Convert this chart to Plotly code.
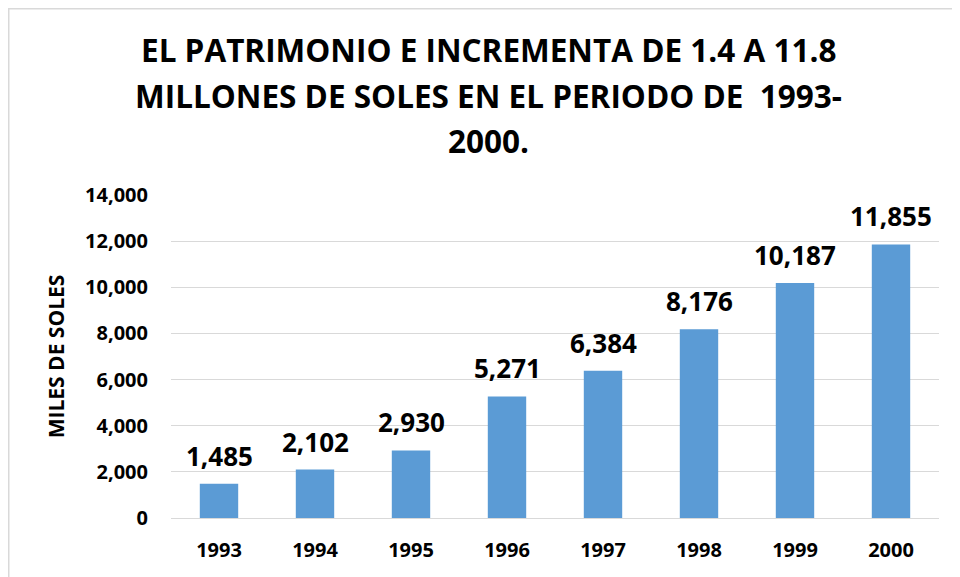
import plotly.graph_objects as go

years = ["1993", "1994", "1995", "1996", "1997", "1998", "1999", "2000"]
values = [1485, 2102, 2930, 5271, 6384, 8176, 10187, 11855]
title_lines = [
    "EL PATRIMONIO E INCREMENTA DE 1.4 A 11.8",
    "MILLONES DE SOLES EN EL PERIODO DE  1993-",
    "2000.",
]
y_title = "MILES DE SOLES"
y_ticks = [0, 2000, 4000, 6000, 8000, 10000, 12000, 14000]

FONT = "Open Sans"
OFF = 8  # page body margin
W, H = 960 - OFF, 577 - OFF
# plot area in page pixels: x 171..939, y 195..518
L, T = 171 - OFF, 195 - OFF
R = W - (939 - OFF)
B = H - (518 - OFF)
pw, ph = W - L - R, H - T - B

def px_to_paper_x(x):
    return (x - OFF - L) / pw

def px_to_paper_y(y):
    return (H - B - (y - OFF)) / ph

fig = go.Figure()
fig.add_trace(go.Bar(
    x=years, y=values, marker=dict(color="#5B9BD5", line=dict(width=0)),
    width=0.4, hoverinfo="x+y",
))

annotations = []
for i, v in enumerate(values):
    annotations.append(dict(
        x=i, y=v, xref="x", yref="y", text=f"{v:,}", showarrow=False,
        yanchor="middle", yshift=28,
        font=dict(family=FONT, size=26, color="#000000", weight="bold"),
    ))
title_y_px = [50, 95, 140]
for line, ypx in zip(title_lines, title_y_px):
    annotations.append(dict(
        x=px_to_paper_x(488), y=px_to_paper_y(ypx), xref="paper", yref="paper",
        text=line, showarrow=False, xanchor="center", yanchor="middle",
        font=dict(family=FONT, size=31.5, color="#000000", weight="bold"),
    ))

fig.update_layout(
    width=W, height=H,
    margin=dict(l=L, r=R, t=T, b=B, autoexpand=False),
    paper_bgcolor="white", plot_bgcolor="white",
    showlegend=False,
    annotations=annotations,
    shapes=[dict(
        type="rect", xref="paper", yref="paper",
        x0=px_to_paper_x(OFF + 0.75), x1=px_to_paper_x(990),
        y0=px_to_paper_y(600), y1=px_to_paper_y(OFF + 0.75),
        line=dict(color="#D9D9D9", width=1.5), fillcolor="rgba(0,0,0,0)",
        layer="below",
    )],
    xaxis=dict(
        type="category", range=[-0.5, len(years) - 0.5],
        showgrid=False, showline=False, zeroline=False,
        ticks="", ticklabelstandoff=18,
        tickfont=dict(family=FONT, size=20, color="#000000", weight="bold"),
    ),
    yaxis=dict(
        range=[0, 14000], tickvals=y_ticks, tickformat=",d",
        showgrid=True, gridcolor="#D9D9D9", gridwidth=1.3,
        zeroline=True, zerolinecolor="#D9D9D9", zerolinewidth=1.3,
        showline=False, ticks="", ticklabelstandoff=22,
        tickfont=dict(family=FONT, size=20, color="#000000", weight="bold"),
        title=dict(text=y_title, standoff=14,
                   font=dict(family=FONT, size=21, color="#000000", weight="bold")),
    ),
)

fig.write_html("out.html")
